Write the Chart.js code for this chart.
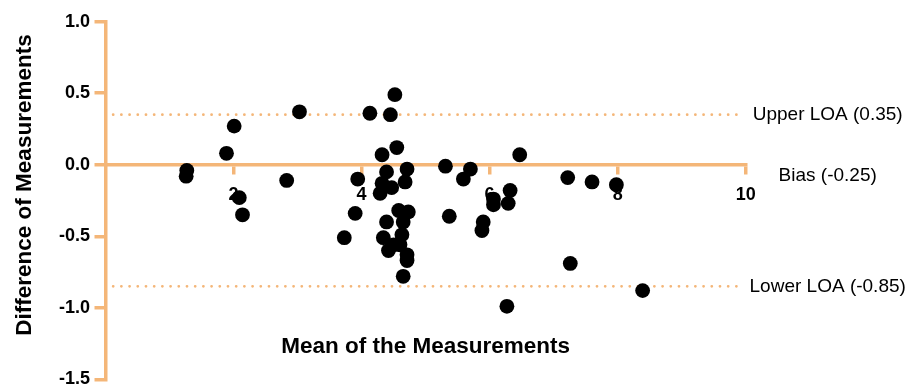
<!DOCTYPE html>
<html>
<head>
<meta charset="utf-8">
<script src="https://cdn.jsdelivr.net/npm/chart.js@4.4.1/dist/chart.umd.min.js"></script>
<style>
  html, body { margin: 0; padding: 0; background: #ffffff; }
  #wrap { width: 910px; height: 387px; }
</style>
</head>
<body>
<div id="wrap"><canvas id="chart" width="910" height="387"></canvas></div>
<script>
// Bland–Altman data: mean of the two measurements (x) and their difference (y)
const meanValues = [
  1.27, 1.26, 1.89, 2.01, 2.09, 2.14, 2.83, 3.03, 3.73, 3.90,
  3.94, 4.13, 4.32, 4.39, 4.32, 4.29, 4.47, 4.45, 4.52, 4.55,
  4.71, 4.68, 4.58, 4.73, 4.39, 4.65, 4.34, 4.63, 4.50, 4.42,
  4.60, 4.71, 4.71, 4.65, 5.31, 5.70, 5.59, 6.47, 5.37, 5.90,
  5.88, 6.06, 6.06, 6.32, 6.29, 7.22, 7.60, 7.98, 7.26, 6.27,
  8.39
];
const diffValues = [
  -0.04, -0.08, 0.08, 0.27, -0.23, -0.35, -0.11, 0.37, -0.51, -0.34,
  -0.10, 0.36, 0.07, -0.05, -0.13, -0.20, -0.16, 0.35, 0.49, 0.12,
  -0.03, -0.12, -0.32, -0.33, -0.40, -0.40, -0.51, -0.49, -0.56, -0.60,
  -0.56, -0.63, -0.67, -0.78, -0.01, -0.03, -0.10, 0.07, -0.36, -0.40,
  -0.46, -0.24, -0.28, -0.18, -0.27, -0.09, -0.12, -0.14, -0.69, -0.99,
  -0.88
];

const xTicks = [2, 4, 6, 8, 10];
const yTicks = [1.0, 0.5, 0.0, -0.5, -1.0, -1.5];

const bias = -0.25;
const upperLOA = 0.35;
const lowerLOA = -0.85;
const loaSpan = [0.12, 9.9];

const xTitle = 'Mean of the Measurements';
const yTitle = 'Difference of Measurements';
const upperLabel = 'Upper LOA (' + upperLOA.toFixed(2) + ')';
const biasLabel = 'Bias (' + bias.toFixed(2) + ')';
const lowerLabel = 'Lower LOA (' + lowerLOA.toFixed(2) + ')';

const AXIS = '#F4B678';
const FONT = '"Liberation Sans", Arial, Helvetica, sans-serif';

const points = meanValues.map((m, i) => ({ x: m, y: diffValues[i] }));
const loaLine = v => loaSpan.map(x => ({ x, y: v }));

// Axis titles and reference-line labels
const textPlugin = {
  id: 'baText',
  afterDraw(chart) {
    const { ctx, chartArea, scales: { y } } = chart;
    ctx.save();
    ctx.fillStyle = '#000000';

    ctx.font = 'bold 22.5px ' + FONT;
    ctx.textAlign = 'center';
    ctx.textBaseline = 'alphabetic';
    ctx.fillText(xTitle, (chartArea.left + chartArea.right) / 2, 353);

    ctx.save();
    ctx.translate(31, 185);
    ctx.rotate(-Math.PI / 2);
    ctx.fillText(yTitle, 0, 0);
    ctx.restore();

    ctx.font = '19px ' + FONT;
    ctx.textBaseline = 'middle';
    const cx = chartArea.right + 82;
    ctx.fillText(upperLabel, cx, y.getPixelForValue(upperLOA));
    ctx.fillText(biasLabel, cx, y.getPixelForValue(0) + 11);
    ctx.fillText(lowerLabel, cx, y.getPixelForValue(lowerLOA));
    ctx.restore();
  }
};

new Chart(document.getElementById('chart'), {
  type: 'scatter',
  data: {
    datasets: [
      {
        data: points,
        backgroundColor: '#000000',
        borderWidth: 0,
        pointRadius: 7.4,
        pointHoverRadius: 7.4
      },
      {
        data: loaLine(upperLOA),
        showLine: true,
        borderColor: AXIS,
        borderWidth: 2.8,
        borderDash: [0, 8.2],
        borderCapStyle: 'round',
        pointRadius: 0
      },
      {
        data: loaLine(lowerLOA),
        showLine: true,
        borderColor: AXIS,
        borderWidth: 2.8,
        borderDash: [0, 8.2],
        borderCapStyle: 'round',
        pointRadius: 0
      }
    ]
  },
  options: {
    responsive: false,
    animation: false,
    events: [],
    devicePixelRatio: 1,
    layout: { padding: { left: 10, top: 21.7, right: 164.3, bottom: 7.7 } },
    plugins: { legend: { display: false }, tooltip: { enabled: false } },
    scales: {
      x: {
        type: 'linear',
        min: 0,
        max: 10,
        position: { y: 0 },
        afterBuildTicks: s => { s.ticks = xTicks.map(v => ({ value: v })); },
        border: { color: AXIS, width: 3.5 },
        grid: { drawOnChartArea: false, drawTicks: true, tickLength: 8, color: AXIS, lineWidth: 3.5 },
        ticks: {
          color: '#000000',
          padding: 11,
          maxRotation: 0,
          autoSkip: false,
          font: { family: FONT, size: 18, weight: 'bold' }
        }
      },
      y: {
        type: 'linear',
        min: -1.5,
        max: 1.0,
        position: 'left',
        afterBuildTicks: s => { s.ticks = yTicks.map(v => ({ value: v })); },
        afterFit: s => { s.width = 95.5; s.paddingTop = 0; s.paddingBottom = 0; },
        border: { color: AXIS, width: 3.5 },
        grid: { drawOnChartArea: false, drawTicks: true, tickLength: 11, color: AXIS, lineWidth: 3.5 },
        ticks: {
          color: '#000000',
          padding: 4.5,
          autoSkip: false,
          callback: v => (Math.abs(v) < 1e-9 ? 0 : v).toFixed(1),
          font: { family: FONT, size: 18, weight: 'bold' }
        }
      }
    }
  },
  plugins: [textPlugin]
});
</script>
</body>
</html>
